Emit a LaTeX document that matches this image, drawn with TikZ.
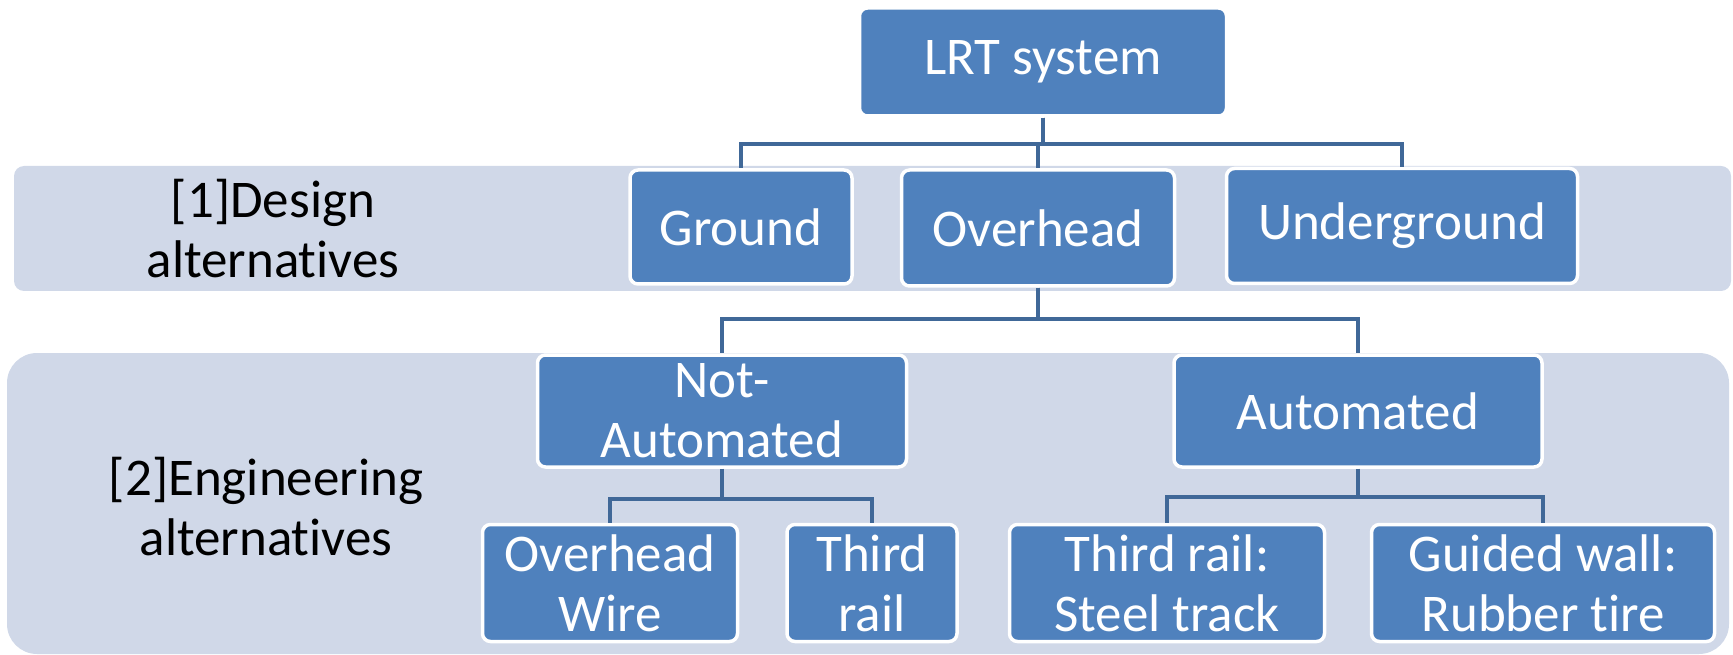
\documentclass[tikz,border=0pt]{standalone}
\usepackage{fontspec}
\setmainfont{Carlito}[Ligatures=NoCommon]
\definecolor{boxblue}{RGB}{79,129,189}
\definecolor{bandgrey}{RGB}{208,216,232}
\definecolor{linkblue}{RGB}{64,104,152}
\begin{document}
\begin{tikzpicture}[x=1pt,y=-1pt,
  every node/.style={inner sep=0pt,align=center,font=\fontsize{53}{60}\selectfont},
  band/.style={fill=bandgrey},
  alt/.style={draw=white,line width=3.5pt,fill=boxblue,text=white,rounded corners=8pt},
  link/.style={draw=linkblue,line width=4pt}]
\useasboundingbox (0,0) rectangle (1733,655);
\fill [band,rounded corners=10pt] (14,166) rectangle (1731,291);
\fill [band,rounded corners=30pt] (7,353) rectangle (1729,654);
\node (design) at (273,229) {[1]Design\\alternatives};
\node (engineering) at (266,507) {[2]Engineering\\alternatives};
\node [alt,minimum width=367pt,minimum height=108pt] (lrt) at (1043,62) {LRT system};
\node [alt,minimum width=222pt,minimum height=114pt] (ground) at (741,227) {Ground};
\node [alt,minimum width=273pt,minimum height=116pt] (overhead) at (1038,228) {Overhead};
\node [alt,minimum width=351pt,minimum height=115pt] (underground) at (1402,226) {Underground};
\node [alt,minimum width=369pt,minimum height=112pt] (notauto) at (722,411) {Not-\\Automated};
\node [alt,minimum width=368pt,minimum height=112pt] (auto) at (1358,411) {Automated};
\node [alt,minimum width=255pt,minimum height=117pt] (wire) at (610,583) {Overhead\\Wire};
\node [alt,minimum width=170pt,minimum height=117pt] (thirdrail) at (872,583) {Third\\rail};
\node [alt,minimum width=315pt,minimum height=117pt] (steel) at (1167,583) {Third rail:\\Steel track};
\node [alt,minimum width=343pt,minimum height=117pt] (rubber) at (1543,583) {Guided wall:\\Rubber tire};
\draw [link] (lrt.south) -- ++(0,26) -| (ground.north);
\draw [link] (lrt.south) -- ++(0,26) -| (overhead.north);
\draw [link] (lrt.south) -- ++(0,26) -| (underground.north);
\draw [link] (overhead.south) -- ++(0,31) -| (notauto.north);
\draw [link] (overhead.south) -- ++(0,31) -| (auto.north);
\draw [link] (notauto.south) -- ++(0,30) -| (wire.north);
\draw [link] (notauto.south) -- ++(0,30) -| (thirdrail.north);
\draw [link] (auto.south) -- ++(0,28) -| (steel.north);
\draw [link] (auto.south) -- ++(0,28) -| (rubber.north);
\end{tikzpicture}
\end{document}
